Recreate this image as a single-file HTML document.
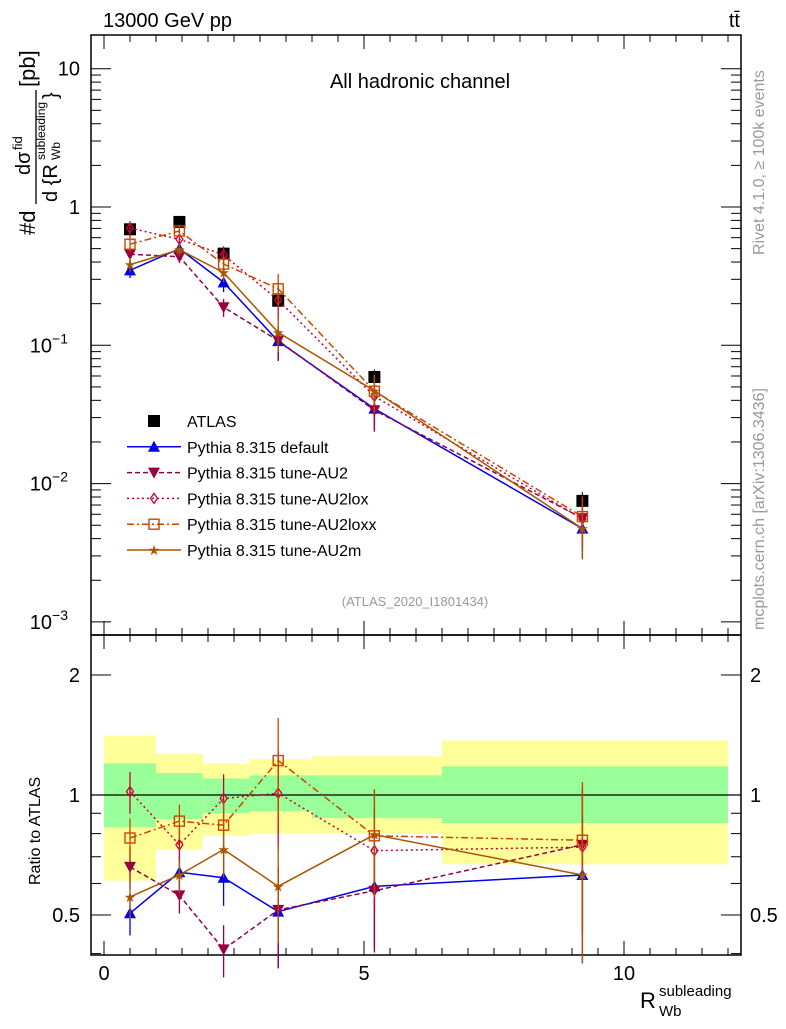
<!DOCTYPE html>
<html><head><meta charset="utf-8">
<style>
body{margin:0;background:#fff;}
svg text{font-family:"Liberation Sans",sans-serif;}
</style></head>
<body>
<svg id="c" width="786" height="1024" xmlns="http://www.w3.org/2000/svg"></svg>
<script>
const binEdges=[0,1.0,1.9,2.8,4.0,6.5,12];
const xPts=[0.5,1.45,2.3,3.35,5.2,9.2];
const atlas=[0.69,0.78,0.46,0.21,0.059,0.0075];
const atlasErr=[0.09,0.08,0.06,0.03,0.008,0.0012];
const rDefault=[0.505,0.64,0.62,0.51,0.59,0.63];
const rAU2=[0.66,0.56,0.41,0.515,0.575,0.75];
const rAU2lox=[1.02,0.75,0.98,1.01,0.725,0.74];
const rAU2loxx=[0.78,0.86,0.84,1.22,0.79,0.77];
const rAU2m=[0.555,0.63,0.73,0.59,0.795,0.63];
const relErr=[0.12,0.1,0.15,0.28,0.3,0.4];
const greenLo=[0.83,0.87,0.90,0.91,0.875,0.85];
const greenHi=[1.2,1.135,1.10,1.12,1.12,1.18];
const yellowLo=[0.61,0.73,0.79,0.80,0.80,0.67];
const yellowHi=[1.41,1.27,1.2,1.23,1.25,1.37];
const yTickLabels=["10","1","10","10","10"];
const yTickExp=["","","−1","−2","−3"];
const xTickLabels=["0","5","10"];

const NS="http://www.w3.org/2000/svg";
const svg=document.getElementById('c');
function el(t,a,p){const e=document.createElementNS(NS,t);for(const k in a)e.setAttribute(k,a[k]);(p||svg).appendChild(e);return e;}
const L=91,R=741,T=35,M=635,B=955;
const X=v=>104+52*v;
const Y=v=>207-138.3*Math.log10(v);
const YR=v=>795-398.6*Math.log10(v);

for(let i=0;i<6;i++){
 let r=el('rect',{x:X(binEdges[i]),y:YR(yellowHi[i]),width:X(binEdges[i+1])-X(binEdges[i]),height:YR(yellowLo[i])-YR(yellowHi[i]),fill:'#ffff99'});
 
 let g=el('rect',{x:X(binEdges[i]),y:YR(greenHi[i]),width:X(binEdges[i+1])-X(binEdges[i]),height:YR(greenLo[i])-YR(greenHi[i]),fill:'#99ff99'});
 
}
el('line',{x1:L,x2:R,y1:YR(1),y2:YR(1),stroke:'#000','stroke-width':1.2});

el('rect',{x:L,y:T,width:R-L,height:M-T,fill:'none',stroke:'#000','stroke-width':1.5});
el('rect',{x:L,y:M,width:R-L,height:B-M,fill:'none',stroke:'#000','stroke-width':1.5});

for(let d=-3;d<=1;d++){
 for(let m=1;m<10;m++){
  const v=m*Math.pow(10,d);const y=Y(v);if(y<T||y>M)continue;
  const len=m==1?20:10;
  el('line',{x1:L,x2:L+len,y1:y,y2:y,stroke:'#000'});
  el('line',{x1:R,x2:R-len,y1:y,y2:y,stroke:'#000'});
 }
}
for(let i=0;i<5;i++){
 const y=Y(Math.pow(10,1-i));
 const t=el('text',{x:i<2?80:68,y:y+7,'font-size':20,'text-anchor':'end'});
 
 t.textContent=yTickLabels[i];
 if(yTickExp[i]){const s=el('tspan',{dy:-9,'font-size':14},t);s.textContent=yTickExp[i];}
}
for(let v=0;v<=12;v+=0.5){
 const x=X(v);const len=(v%5==0)?14:7;
 el('line',{x1:x,x2:x,y1:T,y2:T+len,stroke:'#000'});
 el('line',{x1:x,x2:x,y1:M,y2:M-len,stroke:'#000'});
 el('line',{x1:x,x2:x,y1:M,y2:M+len,stroke:'#000'});
 el('line',{x1:x,x2:x,y1:B,y2:B-len,stroke:'#000'});
}
xTickLabels.forEach((s,i)=>{const t=el('text',{x:X(i*5),y:980,'font-size':20,'text-anchor':'middle'});
 t.textContent=s;});
[0.4,0.5,0.6,0.7,0.8,0.9,1,2].forEach(v=>{const y=YR(v);const len=(v==1||v==2||v==0.5)?20:10;
 el('line',{x1:L,x2:L+len,y1:y,y2:y,stroke:'#000'});el('line',{x1:R,x2:R-len,y1:y,y2:y,stroke:'#000'});});
[[2,'2'],[1,'1'],[0.5,'0.5']].forEach(([v,s])=>{
 let t=el('text',{x:80,y:YR(v)+7,'font-size':20,'text-anchor':'end'});t.textContent=s;
 
 t=el('text',{x:750,y:YR(v)+7,'font-size':20});t.textContent=s;
 });

const series=[
 {name:'default',r:rDefault,c:'#0000ee',dash:'',mk:'tri'},
 {name:'AU2',r:rAU2,c:'#990044',dash:'5,3',mk:'tridown'},
 {name:'AU2lox',r:rAU2lox,c:'#cc0033',dash:'2,3',mk:'diamond'},
 {name:'AU2loxx',r:rAU2loxx,c:'#cc4400',dash:'7,3,2,3',mk:'square'},
 {name:'AU2m',r:rAU2m,c:'#aa5500',dash:'',mk:'star'}];
function marker(k,x,y,c,nm){
 let e;
 if(k=='tri')e=el('polygon',{points:`${x},${y-6} ${x-6},${y+5} ${x+6},${y+5}`,fill:c});
 else if(k=='tridown')e=el('polygon',{points:`${x},${y+6} ${x-6},${y-5} ${x+6},${y-5}`,fill:c});
 else if(k=='diamond')e=el('polygon',{points:`${x},${y-5} ${x-3.5},${y} ${x},${y+5} ${x+3.5},${y}`,fill:'none',stroke:c,'stroke-width':1.3});
 else if(k=='square')e=el('rect',{x:x-5,y:y-5,width:10,height:10,fill:'none',stroke:c,'stroke-width':1.4});
 else if(k=='star')e=el('text',{x:x,y:y+5,'font-size':14,fill:c,'text-anchor':'middle'}),e.textContent='★';
 else e=el('rect',{x:x-6,y:y-6,width:12,height:12,fill:'#000'});
 
}
atlas.forEach((v,i)=>{el('line',{x1:X(xPts[i]),x2:X(xPts[i]),y1:Y(v+atlasErr[i]),y2:Y(v-atlasErr[i]),stroke:'#000'});
 marker('sq',X(xPts[i]),Y(v),'#000','atlas-point');});
series.forEach(s=>{
 const main=s.r.map((r,i)=>r*atlas[i]);
 let p=el('polyline',{points:main.map((v,i)=>X(xPts[i])+','+Y(v)).join(' '),fill:'none',stroke:s.c,'stroke-width':1.5,'stroke-dasharray':s.dash});
 
 p=el('polyline',{points:s.r.map((v,i)=>X(xPts[i])+','+YR(v)).join(' '),fill:'none',stroke:s.c,'stroke-width':1.5,'stroke-dasharray':s.dash});
 
 main.forEach((v,i)=>{const x=X(xPts[i]);
  el('line',{x1:x,x2:x,y1:Y(v*(1+relErr[i])),y2:Y(v*(1-relErr[i])),stroke:s.c,'stroke-width':1.3});
  el('line',{x1:x,x2:x,y1:YR(s.r[i]*(1+relErr[i])),y2:YR(s.r[i]*(1-relErr[i])),stroke:s.c,'stroke-width':1.3});
  marker(s.mk,x,Y(v),s.c,'point-'+s.name);
  marker(s.mk,x,YR(s.r[i]),s.c,'ratio-point-'+s.name);});
});

const legNames=['ATLAS','Pythia 8.315 default','Pythia 8.315 tune-AU2','Pythia 8.315 tune-AU2lox','Pythia 8.315 tune-AU2loxx','Pythia 8.315 tune-AU2m'];
legNames.forEach((n,i)=>{const y=421+i*25.8;
 if(i==0)marker('sq',154,y,'#000','legend-marker');
 else{const s=series[i-1];el('line',{x1:127,x2:181,y1:y,y2:y,stroke:s.c,'stroke-width':1.5,'stroke-dasharray':s.dash});marker(s.mk,154,y,s.c,'legend-marker');}
 const t=el('text',{x:187,y:y+6,'font-size':16});t.textContent=n;
 });

function txt(x,y,s,fs,attrs,nm){const t=el('text',Object.assign({x:x,y:y,'font-size':fs},attrs||{}));t.textContent=s;
 return t;}
txt(103,27,'13000 GeV pp',20,{},'energy-label');
txt(740,27,'tt̄',20,{'text-anchor':'end'},'process-label');
txt(420,88,'All hadronic channel',20,{'text-anchor':'middle'},'channel-title');
txt(415,606,'(ATLAS_2020_I1801434)',13,{'text-anchor':'middle',fill:'#999'},'analysis-id');
txt(0,0,'Rivet 4.1.0, ≥ 100k events',16,{fill:'#999',transform:'translate(764,255) rotate(-90)'},'rivet-label');
txt(0,0,'mcplots.cern.ch [arXiv:1306.3436]',16,{fill:'#999',transform:'translate(764,630) rotate(-90)'},'mcplots-label');
txt(0,0,'Ratio to ATLAS',16,{transform:'translate(40,885) rotate(-90)'},'ratio-y-title');
const g=el('g',{transform:'translate(35,235) rotate(-90)'});
let t=el('text',{x:0,y:0,'font-size':22},g);t.textContent='#d';
t=el('text',{x:60,y:-5,'font-size':20},g);t.textContent='dσ';
t=el('text',{x:85,y:-13,'font-size':13},g);t.textContent='fid';
el('line',{x1:31,x2:145,y1:1,y2:1,stroke:'#000','stroke-width':1.3},g);
t=el('text',{x:33,y:22,'font-size':20},g);t.textContent='d {R';
t=el('text',{x:75,y:10,'font-size':12},g);t.textContent='subleading';
t=el('text',{x:75,y:25,'font-size':12},g);t.textContent='Wb';
t=el('text',{x:136,y:22,'font-size':20},g);t.textContent='}';
t=el('text',{x:148,y:0,'font-size':22},g);t.textContent='[pb]';
txt(640,1008,'R',22,{},'x-axis-title');
txt(659,996,'subleading',15,{},'x-axis-title-sup');
txt(659,1016,'Wb',15,{},'x-axis-title-sub');
</script>
</body></html>
